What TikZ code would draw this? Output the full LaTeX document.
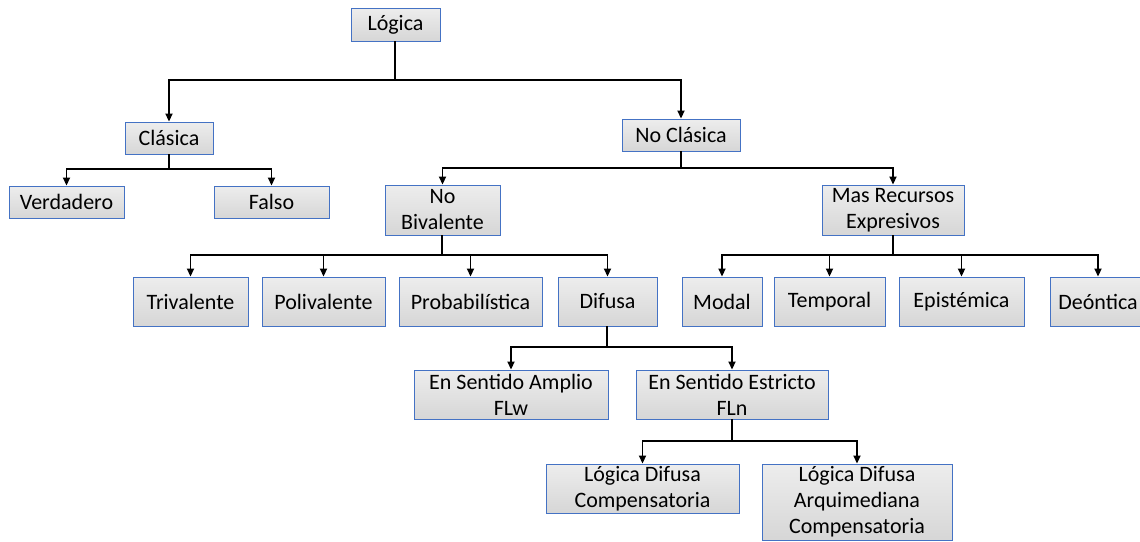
\documentclass[tikz,border=0pt]{standalone}
\usepackage{fontspec}
\setmainfont{Carlito}
\usetikzlibrary{arrows.meta}
\definecolor{boxblue}{RGB}{68,114,196}

\begin{document}
\begin{tikzpicture}
  [x=1pt,y=-1pt,
   every node/.style={draw=boxblue,line width=0.9pt,top color=gray!14,bottom color=gray!32,
     inner sep=0pt,align=center,font=\fontsize{22}{26}\selectfont},
   stem/.style={line width=1.8pt},
   arr/.style={-{Triangle[length=8pt,width=7pt]},line width=1.8pt}]

  \useasboundingbox (0,0) rectangle (1140,541);

  % top levels
  \node[minimum width=89pt,minimum height=33pt] (logica) at (395.5,24.5) {Lógica};
  \node[minimum width=88pt,minimum height=32pt] (clasica) at (169,138) {Clásica};
  \node[minimum width=118pt,minimum height=32pt] (noclasica) at (681,135) {No Clásica};
  \node[minimum width=115pt,minimum height=32pt] (verdadero) at (66.5,202) {Verdadero};
  \node[minimum width=115pt,minimum height=32pt] (falso) at (271.5,202) {Falso};
  \node[minimum width=115pt,minimum height=50pt] (nobival) at (442.5,210) {No\\Bivalente};
  \node[minimum width=142pt,minimum height=50pt] (masrec) at (893,210) {Mas Recursos\\Expresivos};

  % third row
  \node[minimum width=115pt,minimum height=49pt] (trival) at (190.5,301.5) {Trivalente};
  \node[minimum width=123pt,minimum height=49pt] (polival) at (323.5,301.5) {Polivalente};
  \node[minimum width=143pt,minimum height=49pt] (probab) at (470.5,301.5) {Probabilística};
  \node[minimum width=99pt,minimum height=49pt] (difusa) at (607.5,301.5) {Difusa};
  \node[minimum width=80pt,minimum height=49pt] (modal) at (722,301.5) {Modal};
  \node[minimum width=111pt,minimum height=49pt] (temporal) at (829.5,301.5) {Temporal};
  \node[minimum width=125pt,minimum height=49pt] (epistem) at (961.5,301.5) {Epistémica};
  \node[minimum width=96pt,minimum height=49pt] (deontica) at (1098,301.5) {Deóntica};

  % fuzzy branch
  \node[minimum width=194pt,minimum height=49pt] (amplio) at (511,394.5) {En Sentido Amplio\\FLw};
  \node[minimum width=192pt,minimum height=49pt] (estricto) at (732,394.5) {En Sentido Estricto\\FLn};
  \node[minimum width=193pt,minimum height=49pt] (ldc) at (642.5,488.5) {Lógica Difusa\\Compensatoria};
  \node[minimum width=190pt,minimum height=76pt] (ldac) at (857,502) {Lógica Difusa\\Arquimediana\\Compensatoria};

  % bus points
  \coordinate (b1) at (395,80);
  \coordinate (b2) at (169,169);
  \coordinate (b3) at (681,168);
  \coordinate (b4) at (442,255);
  \coordinate (b5) at (893,255);
  \coordinate (b6) at (607,347);
  \coordinate (b7) at (732,441);

  \draw[stem] (logica.south -| b1) -- (b1);
  \draw[arr] (b1) -| (clasica);
  \draw[arr] (b1) -| (noclasica);

  \draw[stem] (clasica.south -| b2) -- (b2);
  \draw[arr] (b2) -| (verdadero);
  \draw[arr] (b2) -| (falso);

  \draw[stem] (noclasica.south -| b3) -- (b3);
  \draw[arr] (b3) -| (nobival);
  \draw[arr] (b3) -| (masrec);

  \draw[stem] (nobival.south -| b4) -- (b4);
  \draw[arr] (b4) -| (trival);
  \draw[arr] (b4) -| (polival);
  \draw[arr] (b4) -| (probab);
  \draw[arr] (b4) -| (difusa);

  \draw[stem] (masrec.south -| b5) -- (b5);
  \draw[arr] (b5) -| (modal);
  \draw[arr] (b5) -| (temporal);
  \draw[arr] (b5) -| (epistem);
  \draw[arr] (b5) -| (deontica);

  \draw[stem] (difusa.south -| b6) -- (b6);
  \draw[arr] (b6) -| (amplio);
  \draw[arr] (b6) -| (estricto);

  \draw[stem] (estricto.south -| b7) -- (b7);
  \draw[arr] (b7) -| (ldc);
  \draw[arr] (b7) -| (ldac);
\end{tikzpicture}
\end{document}
